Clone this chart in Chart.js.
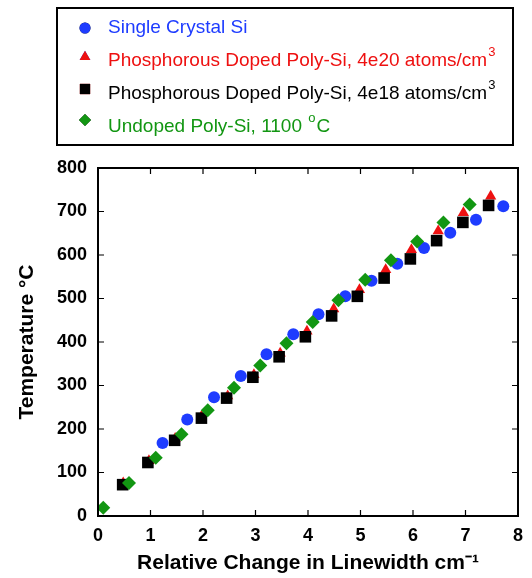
<!DOCTYPE html>
<html>
<head>
<meta charset="utf-8">
<script src="https://cdn.jsdelivr.net/npm/chart.js@4.4.1/dist/chart.umd.min.js"></script>
<style>
  html, body { margin: 0; padding: 0; background: #fff; }
  #wrap { width: 532px; height: 578px; position: relative; }
</style>
</head>
<body>
<div id="wrap"><canvas id="lwChart"></canvas></div>
<script>
// ---------- data ----------
const crystalX = [1.23, 1.70, 2.21, 2.72, 3.21, 3.72, 4.20, 4.71, 5.21, 5.70, 6.21, 6.71, 7.20, 7.72];
const crystalY = [168, 222, 273, 322, 372, 418, 464, 505, 541, 580, 616, 651, 681, 712];

const doped20X = [0.48, 0.97, 1.47, 1.97, 2.47, 2.97, 3.47, 3.98, 4.49, 4.98, 5.48, 5.97, 6.48, 6.96, 7.48];
const doped20Y = [76, 127, 178, 229, 276, 325, 374, 425, 476, 520, 566, 612, 655, 697, 735];

const doped18X = [0.47, 0.95, 1.46, 1.97, 2.45, 2.95, 3.45, 3.95, 4.45, 4.94, 5.45, 5.95, 6.45, 6.95, 7.44];
const doped18Y = [72, 123, 174, 225, 271, 319, 366, 412, 460, 505, 547, 591, 633, 675, 714];

const undopedX = [0.10, 0.59, 1.10, 1.59, 2.09, 2.59, 3.09, 3.59, 4.09, 4.58, 5.09, 5.58, 6.08, 6.58, 7.08];
const undopedY = [19, 76, 134, 188, 243, 295, 346, 397, 446, 496, 543, 588, 631, 675, 716];

const xTicks = [0, 1, 2, 3, 4, 5, 6, 7, 8];
const yTicks = [0, 100, 200, 300, 400, 500, 600, 700, 800];

const BLUE = '#1e3cff';
const RED = '#ee1010';
const BLACK = '#000000';
const GREEN = '#129612';

function toPoints(xs, ys) {
  return xs.map((x, i) => ({ x: x, y: ys[i] }));
}

// legend rows: text, superscript, text after superscript
const legendRows = [
  { color: BLUE, style: 'circle', r: 5.5, my: 28, parts: ['Single Crystal Si'] },
  { color: RED, style: 'triangle', r: 6.2, my: 57, parts: ['Phosphorous Doped Poly-Si, 4e20 atoms/cm', '3'] },
  { color: BLACK, style: 'rect', r: 7.3, my: 89, parts: ['Phosphorous Doped Poly-Si, 4e18 atoms/cm', '3'] },
  { color: GREEN, style: 'rectRot', r: 6, my: 120, parts: ['Undoped Poly-Si, 1100 ', 'o', 'C'] }
];

// ---------- framed legend, frame and inward ticks ----------
const framePlugin = {
  id: 'frame',
  afterDraw(chart) {
    const ctx = chart.ctx;
    const area = chart.chartArea;
    const xs = chart.scales.x;
    const ys = chart.scales.y;
    ctx.save();

    // plot frame
    ctx.strokeStyle = '#000';
    ctx.lineWidth = 2;
    ctx.strokeRect(area.left, area.top, area.right - area.left, area.bottom - area.top);

    // inward tick marks on all four sides
    ctx.lineWidth = 1.2;
    ctx.beginPath();
    xTicks.forEach(v => {
      const px = xs.getPixelForValue(v);
      ctx.moveTo(px, area.bottom); ctx.lineTo(px, area.bottom - 6);
      ctx.moveTo(px, area.top); ctx.lineTo(px, area.top + 6);
    });
    yTicks.forEach(v => {
      const py = ys.getPixelForValue(v);
      ctx.moveTo(area.left, py); ctx.lineTo(area.left + 6, py);
      ctx.moveTo(area.right, py); ctx.lineTo(area.right - 6, py);
    });
    ctx.stroke();

    // legend box
    ctx.lineWidth = 2;
    ctx.strokeStyle = '#000';
    ctx.strokeRect(57, 8, 456, 137);

    const rowY = [28, 61, 94, 127];
    legendRows.forEach((row, i) => {
      const y = rowY[i];
      Chart.helpers.drawPoint(ctx, {
        pointStyle: row.style, radius: row.r, rotation: 0, borderWidth: 0
      }, 85, row.my);
      ctx.fillStyle = row.color;
      ctx.fill();

      ctx.fillStyle = row.color;
      ctx.textBaseline = 'middle';
      ctx.textAlign = 'left';
      let x = 108;
      row.parts.forEach((t, k) => {
        if (k === 1) {
          ctx.font = '13px "Liberation Sans", Arial, sans-serif';
          ctx.fillText(t, x + 1, y - 9);
          x += ctx.measureText(t).width + 2;
        } else {
          ctx.font = '19px "Liberation Sans", Arial, sans-serif';
          ctx.fillText(t, x, y);
          x += ctx.measureText(t).width;
        }
      });
    });
    ctx.restore();
  }
};

window.addEventListener('load', () => { main1() });

function main1() {
  const ctx = document.getElementById('lwChart').getContext('2d');

  // order: red at the bottom, then black, blue, green on top
  new Chart(ctx, {
    type: 'scatter',
    data: {
      datasets: [
        {
          label: 'Single Crystal Si',
          data: toPoints(crystalX, crystalY),
          pointStyle: 'circle', pointRadius: 6,
          backgroundColor: BLUE, borderColor: BLUE, borderWidth: 0,
          order: 2
        },
        {
          label: 'Phosphorous Doped Poly-Si, 4e20 atoms/cm³',
          data: toPoints(doped20X, doped20Y),
          pointStyle: 'triangle', pointRadius: 6.5,
          backgroundColor: RED, borderColor: RED, borderWidth: 0,
          order: 4
        },
        {
          label: 'Phosphorous Doped Poly-Si, 4e18 atoms/cm³',
          data: toPoints(doped18X, doped18Y),
          pointStyle: 'rect', pointRadius: 8.2,
          backgroundColor: BLACK, borderColor: BLACK, borderWidth: 0,
          order: 3
        },
        {
          label: 'Undoped Poly-Si, 1100 °C',
          data: toPoints(undopedX, undopedY),
          pointStyle: 'rectRot', pointRadius: 7,
          backgroundColor: GREEN, borderColor: GREEN, borderWidth: 0,
          order: 1
        }
      ]
    },
    options: {
      responsive: true,
      maintainAspectRatio: false,
      animation: false,
      layout: { padding: { left: 0, right: 11, top: 168, bottom: 0 } },
      plugins: {
        legend: { display: false },
        tooltip: { enabled: false }
      },
      scales: {
        x: {
          type: 'linear',
          min: 0, max: 8,
          afterFit: s => { s.height = 62; },
          afterBuildTicks: s => { s.ticks = xTicks.map(v => ({ value: v })); },
          grid: { display: false, drawTicks: false },
          border: { display: false },
          ticks: {
            padding: 9,
            color: '#000',
            font: { family: '"Liberation Sans", Arial, sans-serif', size: 18, weight: 'bold' }
          },
          title: {
            display: true,
            text: 'Relative Change in Linewidth cm⁻¹',
            color: '#000',
            padding: { top: 0, bottom: 2 },
            font: { family: '"Liberation Sans", Arial, sans-serif', size: 21, weight: 'bold' }
          }
        },
        y: {
          min: 0, max: 800,
          afterFit: s => { s.width = 98; },
          afterBuildTicks: s => { s.ticks = yTicks.map(v => ({ value: v })); },
          grid: { display: false, drawTicks: false },
          border: { display: false },
          ticks: {
            padding: 11,
            color: '#000',
            font: { family: '"Liberation Sans", Arial, sans-serif', size: 18, weight: 'bold' }
          },
          title: {
            display: true,
            text: 'Temperature °C',
            color: '#000',
            padding: { top: 15, bottom: 0 },
            font: { family: '"Liberation Sans", Arial, sans-serif', size: 21, weight: 'bold' }
          }
        }
      }
    },
    plugins: [framePlugin]
  });
}
</script>
</body>
</html>
